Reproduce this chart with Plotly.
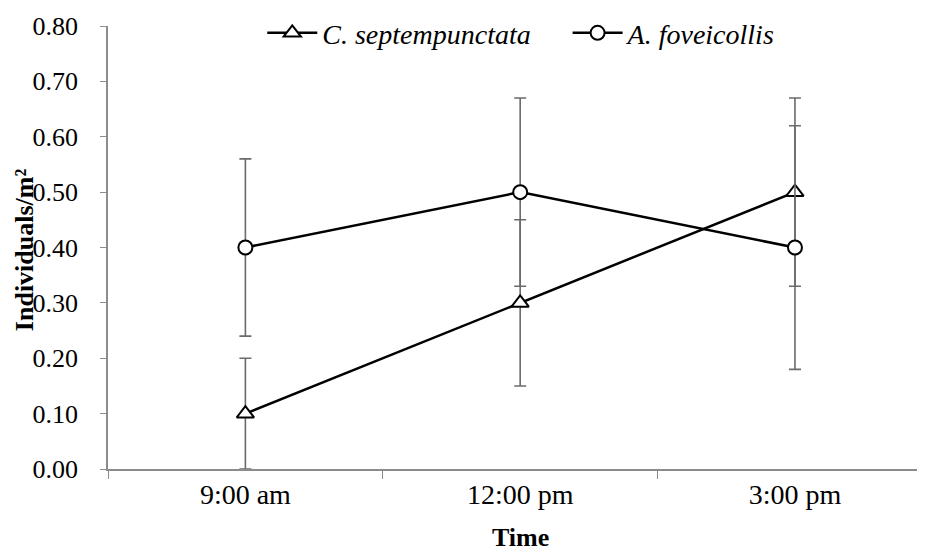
import plotly.graph_objects as go

times = ["9:00 am", "12:00 pm", "3:00 pm"]
sept_vals = [0.10, 0.30, 0.50]
sept_err = [0.10, 0.15, 0.17]
fov_vals = [0.40, 0.50, 0.40]
fov_err = [0.16, 0.17, 0.22]

FONT = "Liberation Serif, Times New Roman, serif"
FS = 28

fig = go.Figure()
fig.add_trace(go.Scatter(
    x=times, y=sept_vals, name="C. septempunctata", mode="lines+markers",
    line=dict(color="black", width=2.5), legend="legend",
    marker=dict(symbol="triangle-up", size=15, color="white", line=dict(color="black", width=2)),
    error_y=dict(type="data", array=sept_err, color="#6b6b6b", thickness=1.6, width=6),
))
fig.add_trace(go.Scatter(
    x=times, y=fov_vals, name="A. foveicollis", mode="lines+markers",
    line=dict(color="black", width=2.5), legend="legend2",
    marker=dict(symbol="circle", size=14, color="white", line=dict(color="black", width=2)),
    error_y=dict(type="data", array=fov_err, color="#6b6b6b", thickness=1.6, width=6),
))

leg_common = dict(orientation="h", yanchor="middle", xanchor="left", y=0.984,
                  font=dict(family=FONT, size=FS, style="italic"),
                  bgcolor="rgba(0,0,0,0)", itemwidth=50)

fig.update_layout(
    width=917, height=546,
    margin=dict(l=100, r=5, t=18, b=85, autoexpand=False),
    paper_bgcolor="white", plot_bgcolor="white",
    font=dict(family=FONT, size=FS, color="black"),
    showlegend=True,
    legend=dict(x=0.19, **leg_common),
    legend2=dict(x=0.566, **leg_common),
    annotations=[
        dict(text="<b>Time</b>", xref="x", yref="paper", x="12:00 pm", y=0,
             xanchor="center", yanchor="middle", yshift=-68, showarrow=False,
             font=dict(family=FONT, size=26)),
        dict(text="<b>Individuals/m²</b>", xref="paper", yref="paper", x=0, y=0.494,
             xanchor="center", yanchor="middle", xshift=-84, textangle=-90, showarrow=False,
             borderpad=0, font=dict(family=FONT, size=26)),
    ],
)
fig.update_xaxes(
    range=[-0.5, 2.455], showgrid=False, showline=True, linecolor="#8c8c8c", linewidth=1.5,
    ticks="outside", tickson="boundaries", ticklen=8, tickcolor="#8c8c8c", tickwidth=1.2,
    tickfont=dict(family=FONT, size=FS), ticklabelstandoff=0, automargin=False,
)
fig.update_yaxes(
    range=[0, 0.80], dtick=0.10, tickformat=".2f", showgrid=False, zeroline=False,
    showline=True, linecolor="#8c8c8c", linewidth=1.5,
    ticks="outside", ticklen=6, tickcolor="#8c8c8c", tickwidth=1.2,
    tickfont=dict(family=FONT, size=26), ticklabelstandoff=17, automargin=False,
)

fig.write_html("out.html")
